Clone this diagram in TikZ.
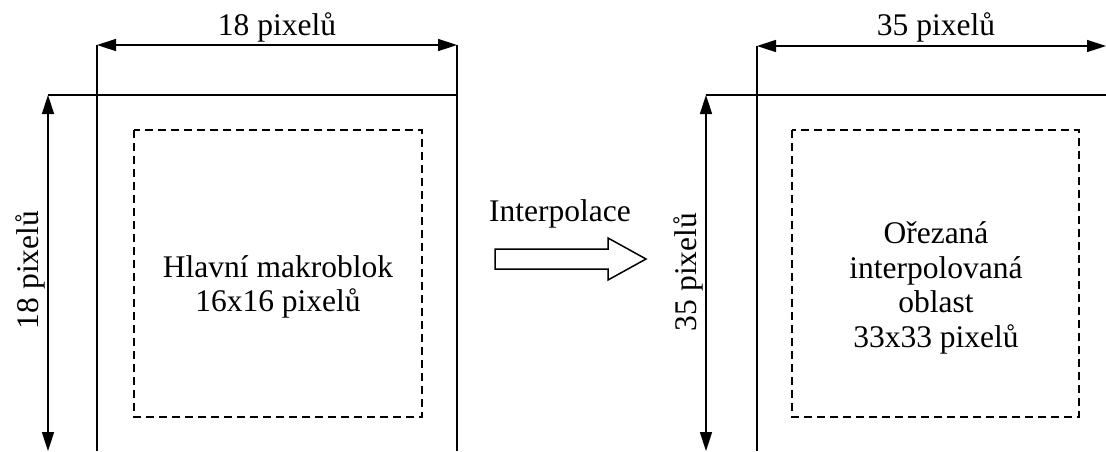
\documentclass[tikz,border=0pt]{standalone}
\usepackage{fontspec}
\setmainfont{Liberation Serif}
\usetikzlibrary{arrows.meta}
\begin{document}
\begin{tikzpicture}[x=1pt,y=-1pt,
  line width=1.5pt,
  dimline/.style={{Triangle[length=19pt,width=12pt]}-{Triangle[length=19pt,width=12pt]}},
  edge/.style={line width=1.5pt},
  inner/.style={line width=1.3pt,dash pattern=on 8pt off 5pt},
  lbl/.style={font=\fontsize{31.5}{34.5}\selectfont,inner sep=0pt,align=center},
  hollow/.style={line width=1.5pt,fill=white,line join=miter}]
\useasboundingbox (0,0) rectangle (1106,451);

% ---- left block: main macroblock ----
\coordinate (Ltl) at (97,95);
\coordinate (Ltr) at (457,95);
\coordinate (Ldl) at (97,45);
\coordinate (Ldr) at (457,45);
\coordinate (Lbl) at (97,451);
\coordinate (Lbr) at (457,451);
\coordinate (Lh) at (48,95);
\coordinate (Lvt) at (48,95);
\coordinate (Lvb) at (48,451);
\draw[edge] (Ldl) -- (Lbl);
\draw[edge] (Ldr) -- (Lbr);
\draw[edge] (Lh) -- (Ltr);
\draw[dimline] (Ldl) -- (Ldr);
\draw[dimline] (Lvt) -- (Lvb);
\draw[inner] (134,130) rectangle (422,417);
\node[lbl] (Ltop) at (277,27) {18 pixelů};
\node[lbl,rotate=90] (Lside) at (30,270) {18 pixelů};
\node[lbl] (Lmid) at (278,287) {Hlavní makroblok\\16x16 pixelů};

% ---- interpolation arrow ----
\draw[hollow] (495,249) -- (608,249) -- (608,238) -- (646,259) -- (608,280)
  -- (608,269) -- (495,269) -- cycle;
\node[lbl] (Iarr) at (560,214) {Interpolace};

% ---- right block: cropped interpolated area ----
\coordinate (Rdl) at (757,46);
\coordinate (Rdr) at (1106,46);
\coordinate (Rbl) at (757,451);
\coordinate (Rh) at (706,95);
\coordinate (Rhr) at (1106,95);
\coordinate (Rvb) at (706,451);
\draw[edge] (Rdl) -- (Rbl);
\draw[edge] (Rh) -- (Rhr);
\draw[dimline] (Rdl) -- (Rdr);
\draw[dimline] (Rh) -- (Rvb);
\draw[inner] (792,130) rectangle (1079,417);
\node[lbl] (Rtop) at (936,27) {35 pixelů};
\node[lbl,rotate=90] (Rside) at (688,272) {35 pixelů};
\node[lbl] (Rmid) at (936,288) {Ořezaná\\interpolovaná\\oblast\\33x33 pixelů};
\end{tikzpicture}
\end{document}
